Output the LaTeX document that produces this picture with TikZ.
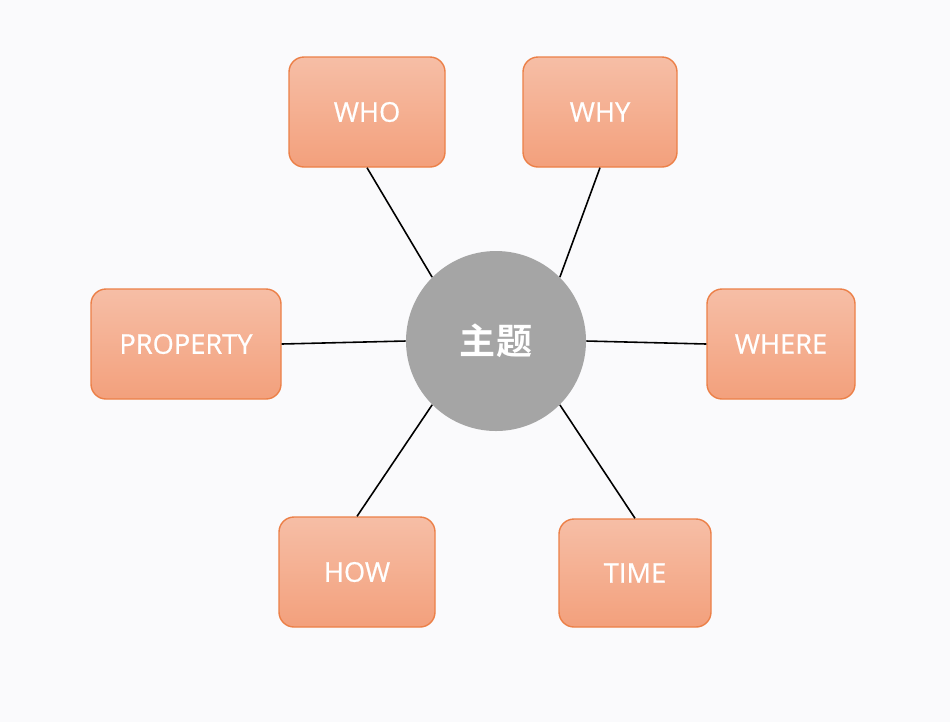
\documentclass[tikz,border=0pt]{standalone}
\usepackage{fontspec}
\setmainfont{Open Sans}
\newfontfamily\boxfont{Open Sans}[FakeBold=0.6]
\newfontfamily\cjk{Noto Sans CJK SC}[BoldFont={Noto Sans CJK SC Bold}]
\usepackage{xcolor}
\usetikzlibrary{positioning, shapes.geometric}

\definecolor{bgpaper}{RGB}{250,250,252}
\definecolor{boxtop}{RGB}{246,190,166}
\definecolor{boxbot}{RGB}{243,160,124}
\definecolor{boxline}{RGB}{236,128,72}
\definecolor{topicgray}{RGB}{165,165,165}

\begin{document}
\begin{tikzpicture}[
        x=0.2mm, y=-0.2mm,
        % Styles
        wbox/.style={draw=boxline, line width=0.8pt, rounded corners=3mm, top color=boxtop, bottom color=boxbot,
            minimum height=22mm, text=white, font=\boxfont\fontsize{15.5}{18}\selectfont, inner sep=0pt},
        topic/.style={circle, fill=topicgray, minimum size=36mm, inner sep=0pt, text=white,
            font=\cjk\bfseries\fontsize{20.5}{24}\selectfont},
        link/.style={line width=0.9pt, black},
    ]
        % === Background ===
        \fill[bgpaper] (0,0) rectangle (950,722);
        \useasboundingbox (0,0) rectangle (950,722);

        % === Center topic ===
        \node[topic] (topic) at (496,341) {主题};

        % === Question boxes ===
        \node[wbox, minimum width=31.2mm] (who) at (367,112) {WHO};
        \node[wbox, minimum width=30.8mm] (why) at (600,112) {WHY};
        \node[wbox, minimum width=38mm] (property) at (186,344) {PROPERTY};
        \node[wbox, minimum width=29.6mm] (where) at (781,344) {WHERE};
        \node[wbox, minimum width=31.2mm] (how) at (357,572) {HOW};
        \node[wbox, minimum width=30.4mm, minimum height=21.6mm] (time) at (635,573) {TIME};

        % === Connectors ===
        \draw[link] (who.south) -- (topic.135);
        \draw[link] (why.south) -- (topic.45);
        \draw[link] (property.east) -- (topic.west);
        \draw[link] (topic.east) -- (where.west);
        \draw[link] (how.north) -- (topic.225);
        \draw[link] (time.north) -- (topic.315);

    \end{tikzpicture}
\end{document}
